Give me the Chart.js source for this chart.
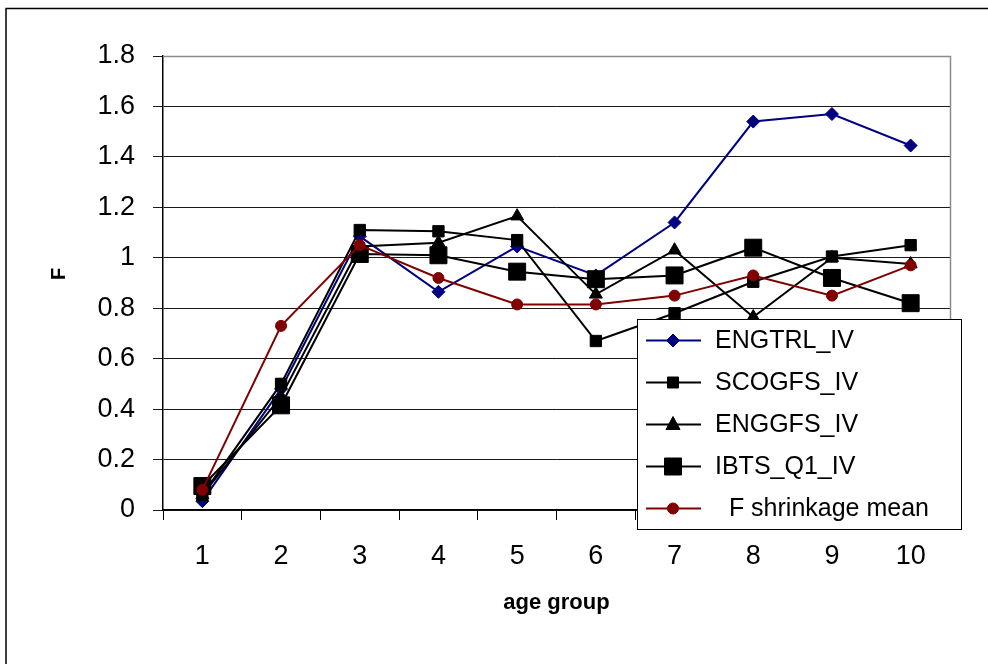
<!DOCTYPE html>
<html>
<head>
<meta charset="utf-8">
<script src="https://cdn.jsdelivr.net/npm/chart.js@4/dist/chart.umd.min.js"></script>
<style>
  html, body { margin: 0; padding: 0; background: #ffffff; }
  #wrap { width: 988px; height: 664px; position: relative; }
</style>
</head>
<body>
<div id="wrap"><canvas id="c" width="988" height="664"></canvas></div>
<script>
// Age groups on the x axis
const ageGroups = ['1', '2', '3', '4', '5', '6', '7', '8', '9', '10'];

// Fishing mortality (F) by survey index and the shrinkage mean
const seriesNames = ['ENGTRL_IV', 'SCOGFS_IV', 'ENGGFS_IV', 'IBTS_Q1_IV', '  F shrinkage mean'];
const engtrlIV   = [0.035, 0.48, 1.085, 0.865, 1.045, 0.93, 1.14, 1.54, 1.57, 1.445];
const scogfsIV   = [0.06, 0.50, 1.11, 1.105, 1.07, 0.67, 0.78, 0.905, 1.005, 1.05];
const enggfsIV   = [0.06, 0.45, 1.045, 1.06, 1.165, 0.855, 1.03, 0.765, 1.0, 0.975];
const ibtsQ1IV   = [0.095, 0.415, 1.015, 1.01, 0.945, 0.915, 0.93, 1.04, 0.92, 0.82];
const fShrinkage = [0.08, 0.73, 1.05, 0.92, 0.815, 0.815, 0.85, 0.93, 0.85, 0.97];

// Value axis ticks
const yTicks = [0, 0.2, 0.4, 0.6, 0.8, 1, 1.2, 1.4, 1.6, 1.8];

const FONT = "'Liberation Sans', Arial, sans-serif";
const NAVY = '#000080';
const MAROON = '#800000';

function series(label, data, color, style, radius, order) {
  return {
    label, data,
    borderColor: color,
    backgroundColor: color,
    borderWidth: 2,
    tension: 0,
    pointStyle: style,
    pointRadius: radius,
    pointBorderWidth: 1,
    pointBorderColor: color,
    pointBackgroundColor: color,
    order
  };
}

// Marker glyphs used by the legend box
function drawMarker(ctx, kind, x, y, color) {
  ctx.save();
  ctx.fillStyle = color;
  ctx.strokeStyle = color;
  ctx.lineWidth = 1;
  ctx.beginPath();
  if (kind === 'diamond') {
    ctx.moveTo(x, y - 6.5); ctx.lineTo(x + 6.5, y); ctx.lineTo(x, y + 6.5); ctx.lineTo(x - 6.5, y);
    ctx.closePath();
  } else if (kind === 'smallSquare') {
    ctx.rect(x - 5.5, y - 5.5, 11, 11);
  } else if (kind === 'triangle') {
    ctx.moveTo(x, y - 8); ctx.lineTo(x + 7, y + 5); ctx.lineTo(x - 7, y + 5);
    ctx.closePath();
  } else if (kind === 'bigSquare') {
    ctx.rect(x - 8.5, y - 8.5, 17, 17);
  } else {
    ctx.arc(x, y, 5.5, 0, Math.PI * 2);
  }
  ctx.fill();
  ctx.stroke();
  ctx.restore();
}

const legendMarkers = ['diamond', 'smallSquare', 'triangle', 'bigSquare', 'circle'];

const framePlugin = {
  id: 'frame',
  beforeDraw(chart) {
    const ctx = chart.ctx;
    ctx.save();
    ctx.fillStyle = '#ffffff';
    ctx.fillRect(0, 0, chart.width, chart.height);
    ctx.strokeStyle = '#000000';
    ctx.lineWidth = 1.5;
    ctx.strokeRect(6, 8.5, chart.width + 20, chart.height + 20);
    ctx.restore();
  },
  beforeDatasetsDraw(chart) {
    const { ctx, chartArea: a } = chart;
    ctx.save();
    ctx.strokeStyle = '#8c8c8c';
    ctx.lineWidth = 1.5;
    ctx.beginPath();
    ctx.moveTo(a.left, a.top + 0.5);
    ctx.lineTo(a.right + 0.5, a.top + 0.5);
    ctx.lineTo(a.right + 0.5, a.bottom);
    ctx.stroke();
    ctx.restore();
  },
  afterDraw(chart) {
    const { ctx, chartArea: a } = chart;
    ctx.save();
    // axis titles
    ctx.fillStyle = '#000000';
    ctx.font = "bold 22px " + FONT;
    ctx.textAlign = 'center';
    ctx.textBaseline = 'middle';
    ctx.fillText('age group', (a.left + a.right) / 2, 603);
    ctx.save();
    ctx.translate(59, 274);
    ctx.rotate(-Math.PI / 2);
    ctx.font = "bold 20px " + FONT;
    ctx.fillText('F', 0, 0);
    ctx.restore();

    // legend box
    const bx = 637.5, by = 319.5, bw = 324, bh = 210;
    ctx.fillStyle = '#ffffff';
    ctx.fillRect(bx, by, bw, bh);
    ctx.strokeStyle = '#000000';
    ctx.lineWidth = 1;
    ctx.strokeRect(bx, by, bw, bh);
    const rowY = [340.5, 382.5, 424.5, 466.5, 508.5];
    chart.data.datasets.forEach((ds, i) => {
      const y = rowY[i];
      ctx.strokeStyle = ds.borderColor;
      ctx.lineWidth = 2;
      ctx.beginPath();
      ctx.moveTo(646, y);
      ctx.lineTo(701, y);
      ctx.stroke();
      drawMarker(ctx, legendMarkers[i], 673, y, ds.borderColor);
      ctx.fillStyle = '#000000';
      ctx.font = "25px " + FONT;
      ctx.textAlign = 'left';
      ctx.textBaseline = 'middle';
      ctx.fillText(ds.label, 715, y + 1);
    });
    ctx.restore();
  }
};

new Chart(document.getElementById('c'), {
  type: 'line',
  data: {
    labels: ageGroups,
    datasets: [
      series(seriesNames[0], engtrlIV, NAVY, 'rectRot', 6.5, 5),
      series(seriesNames[1], scogfsIV, '#000000', 'rect', 8, 4),
      series(seriesNames[2], enggfsIV, '#000000', 'triangle', 7.5, 3),
      series(seriesNames[3], ibtsQ1IV, '#000000', 'rect', 12, 2),
      series(seriesNames[4], fShrinkage, MAROON, 'circle', 5.5, 1)
    ]
  },
  options: {
    responsive: false,
    animation: false,
    devicePixelRatio: 1,
    events: [],
    layout: { padding: { left: 0, top: 56, right: 38, bottom: 0 } },
    plugins: {
      legend: { display: false },
      tooltip: { enabled: false }
    },
    scales: {
      x: {
        type: 'category',
        offset: true,
        grid: {
          offset: true,
          drawOnChartArea: false,
          drawTicks: true,
          tickLength: 10,
          color: '#000000',
          lineWidth: 1
        },
        border: { display: true, color: '#000000', width: 1.5 },
        ticks: {
          color: '#000000',
          font: { family: FONT, size: 27 },
          padding: 20,
          maxRotation: 0,
          autoSkip: false
        },
        afterFit(scale) { scale.height = 154; }
      },
      y: {
        min: 0,
        max: 1.8,
        afterBuildTicks(scale) { scale.ticks = yTicks.map(v => ({ value: v })); },
        grid: {
          drawTicks: true,
          tickLength: 10,
          color: '#1a1a1a',
          lineWidth: 1
        },
        border: { display: true, color: '#000000', width: 1.5 },
        ticks: {
          color: '#000000',
          font: { family: FONT, size: 27 },
          padding: 18,
          callback: v => String(Number(v.toFixed(1)))
        },
        afterFit(scale) { scale.width = 163; }
      }
    }
  },
  plugins: [framePlugin]
});
</script>
</body>
</html>
